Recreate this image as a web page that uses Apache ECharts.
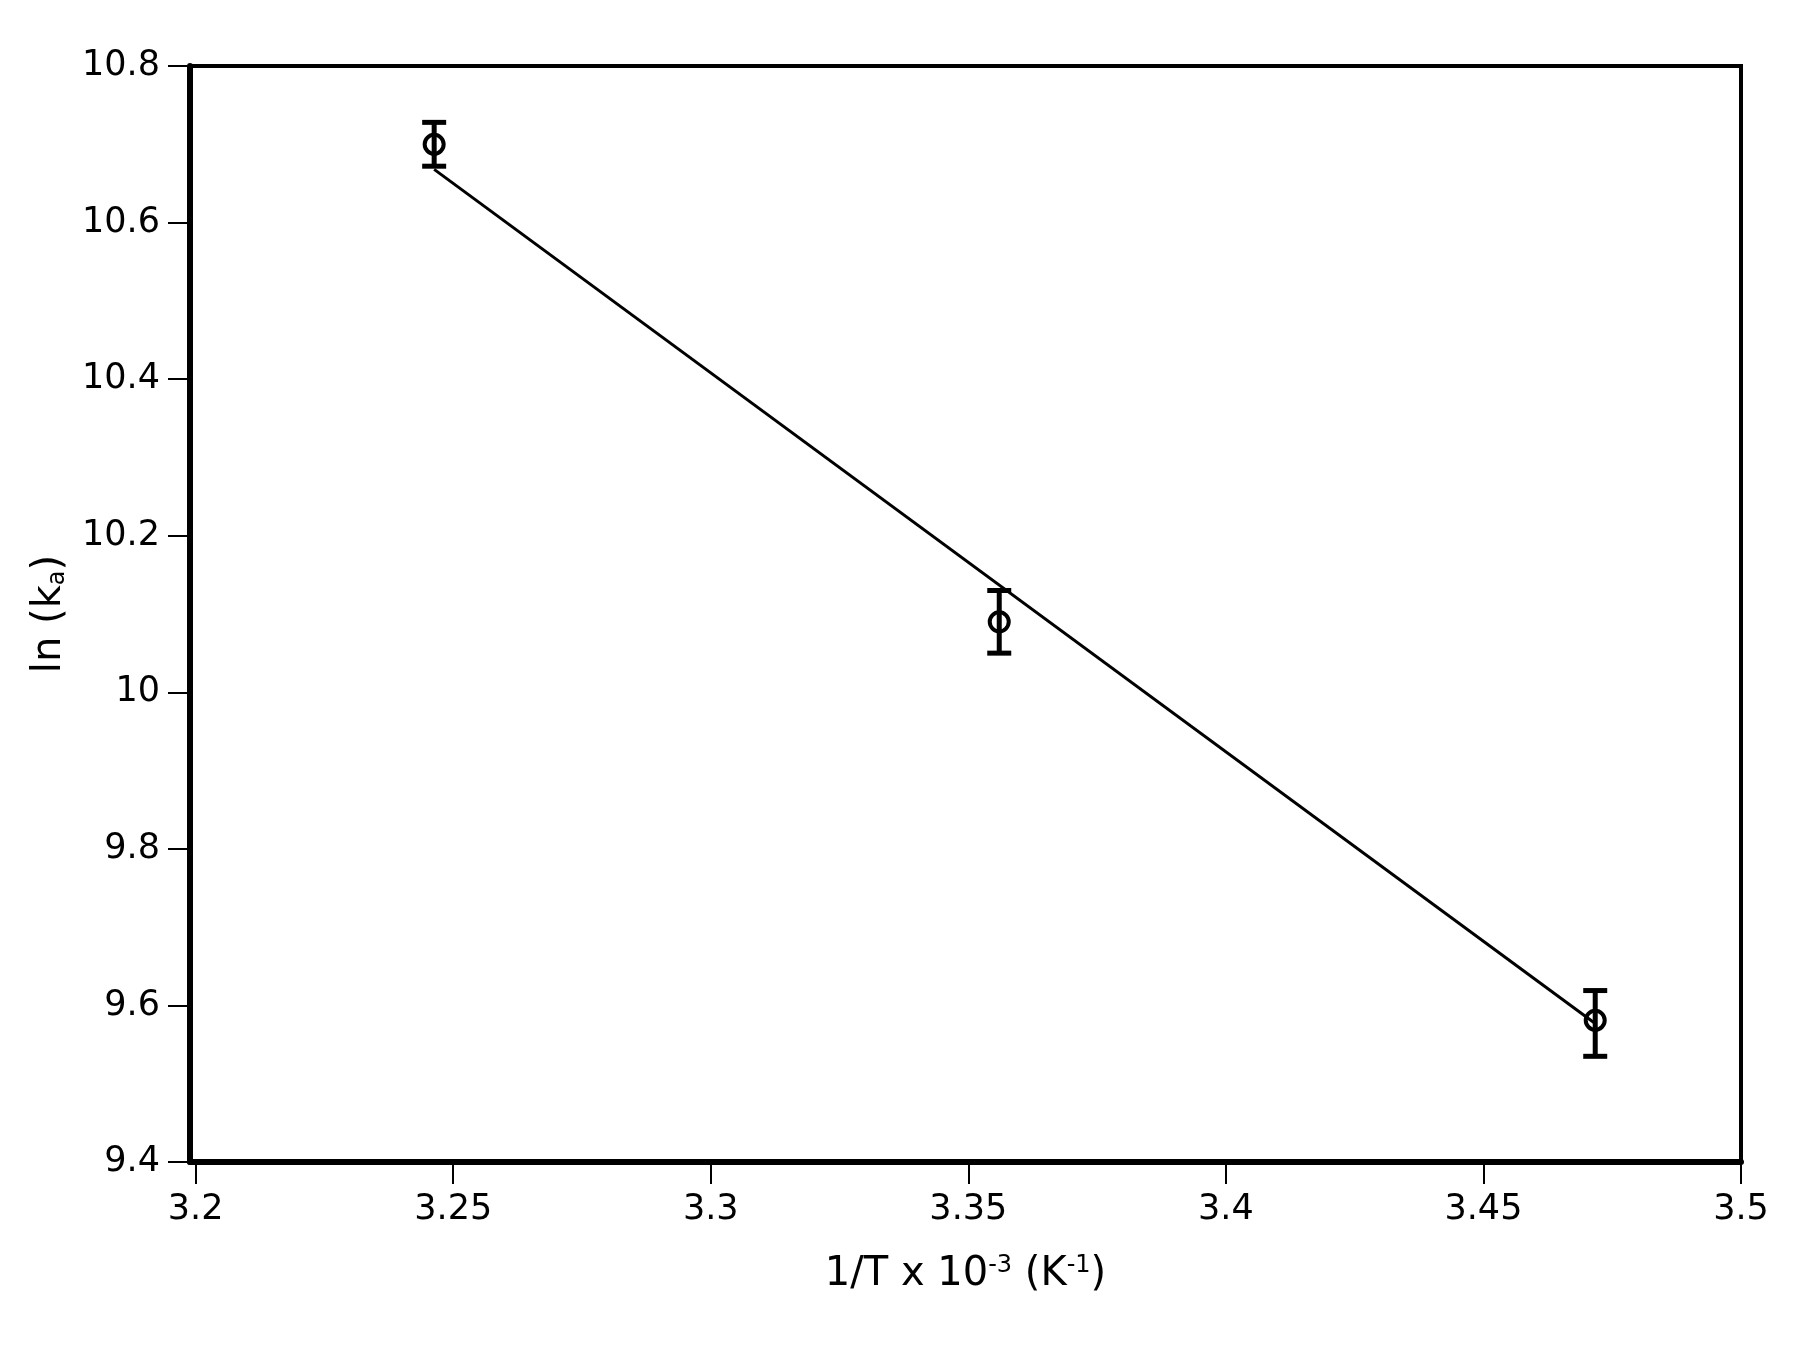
<!DOCTYPE html>
<html><head><meta charset="utf-8">
<script src="https://cdn.jsdelivr.net/npm/echarts@6/dist/echarts.min.js"></script>
<style>html,body{margin:0;background:#fff}#c{width:1811px;height:1364px}</style>
</head><body><div id="c"></div>
<script>
var chart = echarts.init(document.getElementById('c'));

// measured points
var invT = [3.2463, 3.356, 3.4717];
var lnK = [10.70, 10.09, 9.581];
var errLow = [10.672, 10.05, 9.535];
var errHigh = [10.728, 10.13, 9.619];
// fitted line ends
var fitX = [3.2463, 3.4717];
var fitY = [10.668, 9.577];
var xTicks = [3.2, 3.25, 3.3, 3.35, 3.4, 3.45, 3.5];
var yTicks = [9.4, 9.6, 9.8, 10, 10.2, 10.4, 10.6, 10.8];

var font = 'DejaVu Sans';
chart.setOption({
    animation: false,
    grid: { left: 190, right: 70, top: 66, bottom: 202, show: true, borderColor: '#000', borderWidth: 4 },
    xAxis: {
        type: 'value', min: 3.1989, max: 3.5,
        name: '1/T x 10{s|-3} (K{s|-1})', nameLocation: 'middle', nameGap: 92,
        nameTextStyle: { fontFamily: font, fontSize: 40, color: '#000',
            rich: { s: { fontFamily: font, fontSize: 24, verticalAlign: 'top', padding: [0, 0, 18, 0] } } },
        axisLine: { lineStyle: { color: '#000', width: 6 } },
        axisTick: { customValues: xTicks, length: 22, lineStyle: { width: 2 } },
        axisLabel: { customValues: xTicks, fontFamily: font, fontSize: 35, color: '#000', margin: 30 },
        splitLine: { show: false }
    },
    yAxis: {
        type: 'value', min: 9.4, max: 10.8, interval: 0.2,
        name: 'ln (k{s|a})', nameLocation: 'middle', nameGap: 120,
        nameTextStyle: { fontFamily: font, fontSize: 40, color: '#000',
            rich: { s: { fontFamily: font, fontSize: 24, verticalAlign: 'bottom', padding: [16, 0, 0, 0] } } },
        axisLine: { lineStyle: { color: '#000', width: 6 } },
        axisTick: { length: 22, lineStyle: { width: 2 } },
        axisLabel: { fontFamily: font, fontSize: 35, color: '#000', margin: 30,
            formatter: function (v) { return +v.toFixed(1) + ''; } },
        splitLine: { show: false }
    },
    series: [
        {
            type: 'line', data: fitX.map(function (x, i) { return [x, fitY[i]]; }),
            symbol: 'none', lineStyle: { color: '#000', width: 3 }
        },
        {
            type: 'custom',
            data: invT.map(function (x, i) { return [x, errLow[i], errHigh[i]]; }),
            renderItem: function (params, api) {
                var lo = api.coord([api.value(0), api.value(1)]);
                var hi = api.coord([api.value(0), api.value(2)]);
                var w = 12, st = { stroke: '#000', lineWidth: 5 };
                return { type: 'group', children: [
                    { type: 'line', shape: { x1: lo[0], y1: lo[1], x2: hi[0], y2: hi[1] }, style: st },
                    { type: 'line', shape: { x1: lo[0] - w, y1: lo[1], x2: lo[0] + w, y2: lo[1] }, style: st },
                    { type: 'line', shape: { x1: hi[0] - w, y1: hi[1], x2: hi[0] + w, y2: hi[1] }, style: st }
                ] };
            }
        },
        {
            type: 'scatter', data: invT.map(function (x, i) { return [x, lnK[i]]; }),
            symbol: 'circle', symbolSize: 19,
            itemStyle: { color: 'rgba(255,255,255,0)', borderColor: '#000', borderWidth: 4, opacity: 1 },
            z: 5
        }
    ]
});
</script></body></html>
